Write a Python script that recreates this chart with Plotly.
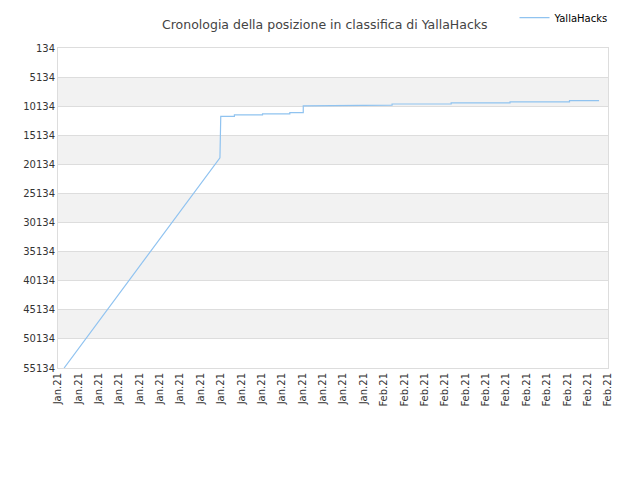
import plotly.graph_objects as go

# tick labels along the x axis (one per index)
tickLabels = ['Jan.21'] * 16 + ['Feb.21'] * 12

# ranking over time (x = tick index, y = position)
xPos = [0.3, 7.95, 7.99, 8.66, 8.66, 10.04, 10.04, 11.38, 11.38, 12.04, 12.04,
        13.5, 13.5, 16.4, 16.4, 19.3, 19.3, 22.19, 22.19, 25.11, 25.11, 26.56]
rank = [55134, 19000, 11890, 11890, 11630, 11630, 11440, 11440, 11250, 11250, 10070,
        10070, 9950, 9950, 9760, 9760, 9570, 9570, 9380, 9380, 9190, 9190]

yTicks = list(range(134, 55135, 5000))

fig = go.Figure()
fig.add_trace(go.Scatter(x=xPos, y=rank, mode='lines', name='YallaHacks',
                         line=dict(color='#90c3f0', width=1.2)))

# alternating grey bands
for lo in range(5134, 55134, 10000):
    fig.add_shape(type='rect', xref='paper', x0=0, x1=1, yref='y', y0=lo, y1=lo + 5000,
                  fillcolor='#f2f2f2', line_width=0, layer='below')

fig.update_layout(
    width=640, height=480,
    margin=dict(l=50, r=40, t=40, b=120, autoexpand=False),
    paper_bgcolor='white', plot_bgcolor='white',
    font=dict(family='DejaVu Sans', size=10, color='#333'),
    title=dict(text='Cronologia della posizione in classifica di YallaHacks',
               x=0.495, y=0.975, xanchor='center', font=dict(size=12.5, color='#444')),
    showlegend=True,
    legend=dict(x=1.01, y=1.095, xanchor='right', yanchor='middle',
                font=dict(size=10, color='#000'), bgcolor='rgba(0,0,0,0)'),
    xaxis=dict(range=[0, 27], tickmode='array', tickvals=list(range(28)), ticktext=tickLabels,
               tickangle=-90, showgrid=False, zeroline=False, showline=True, automargin=False,
               linecolor='#ddd', mirror=True, tickfont=dict(size=10, color='#333')),
    yaxis=dict(range=[55134, 134], tickvals=yTicks, ticktext=[str(v) for v in yTicks],
               showgrid=True, gridcolor='#ddd', zeroline=False, showline=True, automargin=False,
               linecolor='#ddd', mirror=True, tickfont=dict(size=10, color='#333')),
)

fig.write_html("out.html")
